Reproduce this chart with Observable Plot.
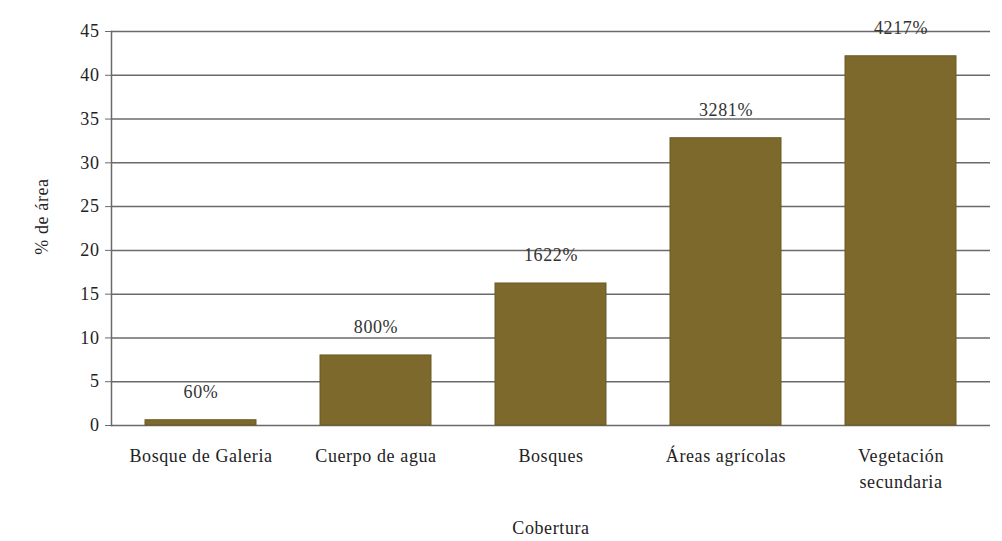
<!DOCTYPE html>
<html>
<head>
<meta charset="utf-8">
<script src="https://cdn.jsdelivr.net/npm/d3@7"></script>
<script src="https://cdn.jsdelivr.net/npm/@observablehq/plot@0.6"></script>
<style>
  html, body { margin: 0; padding: 0; background: #fff; }
  svg { display: block; }
  svg text { letter-spacing: 0.6px; }
</style>
</head>
<body>
<div id="chart"></div>
<script>
const categories = ["Bosque de Galeria", "Cuerpo de agua", "Bosques", "Áreas agrícolas", "Vegetación secundaria"];
const values = [0.60, 8.00, 16.22, 32.81, 42.17];
const valueLabels = ["60%", "800%", "1622%", "3281%", "4217%"];
const yTicks = [0, 5, 10, 15, 20, 25, 30, 35, 40, 45];
const tickLabelMap = {"Vegetación secundaria": "Vegetación\nsecundaria"};

const data = categories.map((c, i) => ({cat: c, value: values[i], label: valueLabels[i]}));

const font = "'Liberation Serif', 'DejaVu Serif', serif";
const barColor = "#7d692c";
const lineColor = "#6a6a6a";

const chart = Plot.plot({
  width: 1002,
  height: 541,
  marginLeft: 111,
  marginRight: 12,
  marginTop: 31,
  marginBottom: 116,
  style: {fontFamily: font, fontSize: "18px", color: "#222", background: "#fff"},
  x: {domain: categories, paddingInner: 0.364, paddingOuter: 0.18, label: null},
  y: {domain: [0, 45], label: null},
  marks: [
    Plot.gridY(yTicks, {stroke: lineColor, strokeOpacity: 1, strokeWidth: 1.5}),
    Plot.frame({anchor: "left", stroke: lineColor, strokeWidth: 1.5}),
    Plot.barY(data, {x: "cat", y: "value", fill: barColor, stroke: "#6a5a24", strokeWidth: 1}),
    Plot.text(data, {x: "cat", y: "value", text: "label", dy: -28, fontSize: 18, fill: "#333"}),
    Plot.axisY({ticks: yTicks, tickSize: 6, tickPadding: 6, fontSize: 18, stroke: lineColor, label: null}),
    Plot.axisX({tickSize: 0, tickPadding: 18, fontSize: 18, lineHeight: 1.45, lineAnchor: "top", tickFormat: d => tickLabelMap[d] ?? d, label: null}),
    Plot.text(["% de área"], {frameAnchor: "left", textAnchor: "middle", dx: -69, dy: -12, rotate: -90, fontSize: 18, fill: "#222"}),
    Plot.text(["Cobertura"], {frameAnchor: "bottom", dy: 108, fontSize: 18, fill: "#222"})
  ]
});
document.getElementById("chart").appendChild(chart);
</script>
</body>
</html>
